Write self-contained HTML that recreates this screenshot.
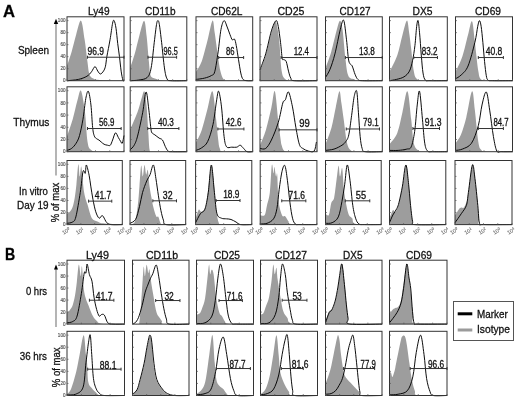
<!DOCTYPE html>
<html><head><meta charset="utf-8"><style>
html,body{margin:0;padding:0;background:#fff;}
svg{display:block;will-change:transform;}
text{font-family:"Liberation Sans",sans-serif;stroke:#111;stroke-width:0.3px;}
</style></head><body>
<svg width="520" height="402" viewBox="0 0 520 402">
<rect width="520" height="402" fill="#fff"/>
<path d="M67.00,80.70 L67.00,66.00 C67.76,63.66 70.04,57.16 71.56,51.95 C73.08,46.73 74.55,39.91 76.12,34.69 C77.69,29.47 79.54,19.78 80.97,20.63 C82.39,21.49 83.58,32.88 84.67,39.80 C85.76,46.73 86.76,56.52 87.52,62.17 C88.28,67.81 88.38,71.01 89.23,73.67 C90.09,76.33 90.66,77.08 92.65,78.14 C94.65,79.21 95.97,79.64 101.20,80.06 C106.42,80.49 120.20,80.59 124.00,80.70 L124.00,80.70 Z" fill="#9d9d9d"/>
<path d="M67.00,80.70 C68.90,80.49 75.08,80.17 78.40,79.42 C81.73,78.68 84.77,77.50 86.95,76.23 C89.14,74.95 90.18,73.35 91.51,71.75 C92.84,70.16 93.89,66.75 94.93,66.64 C95.98,66.54 96.87,69.89 97.78,71.12 C98.69,72.34 99.45,73.99 100.40,73.99 C101.35,73.99 102.63,72.41 103.48,71.12 C104.33,69.82 104.91,68.64 105.47,66.19 C106.04,63.75 106.14,60.82 106.90,56.42 C107.66,52.02 109.08,45.34 110.03,39.80 C110.98,34.27 111.92,26.38 112.60,23.19 C113.28,19.99 113.57,19.78 114.14,20.63 C114.71,21.49 115.42,24.47 116.02,28.30 C116.62,32.14 117.16,38.95 117.73,43.64 C118.30,48.32 118.87,51.84 119.44,56.42 C120.01,61.00 120.58,67.17 121.15,71.12 C121.72,75.06 122.39,78.46 122.86,80.06 C123.33,81.66 123.81,80.59 124.00,80.70" fill="none" stroke="#000" stroke-width="0.95" stroke-linejoin="round"/>
<path d="M87.52,57.22 H124.00 M87.52,55.72 V58.72 M124.00,55.72 V58.72" stroke="#333" stroke-width="1" fill="none"/>
<text x="87.52" y="54.72" font-size="10.00" textLength="16.53" lengthAdjust="spacingAndGlyphs" fill="#111">96.9</text>
<rect x="67.00" y="16.80" width="57.00" height="63.90" fill="none" stroke="#333" stroke-width="1"/>
<path d="M67.00,80.70 h1.5 M67.00,68.69 h1.5 M67.00,56.67 h1.5 M67.00,44.66 h1.5 M67.00,32.65 h1.5 M67.00,20.63 h1.5 M67.00,80.70 v-1.5 M81.25,80.70 v-1.5 M95.50,80.70 v-1.5 M109.75,80.70 v-1.5 M124.00,80.70 v-1.5" stroke="#555" stroke-width="0.7"/>
<path d="M130.20,80.70 L130.20,67.92 C130.95,65.58 133.22,59.19 134.73,53.86 C136.24,48.54 137.70,41.51 139.26,35.97 C140.81,30.43 142.84,20.63 144.07,20.63 C145.29,20.63 145.81,29.15 146.61,35.97 C147.42,42.79 148.22,54.93 148.88,61.53 C149.54,68.13 149.44,72.71 150.58,75.59 C151.71,78.46 153.41,77.93 155.67,78.78 C157.93,79.64 158.97,80.38 164.16,80.70 C169.35,81.02 183.03,80.70 186.80,80.70 L186.80,80.70 Z" fill="#9d9d9d"/>
<path d="M130.20,80.70 C131.61,80.59 135.86,80.59 138.69,80.06 C141.52,79.53 145.10,79.53 147.18,77.50 C149.26,75.48 149.96,73.78 151.14,67.92 C152.32,62.06 153.36,49.60 154.25,42.36 C155.15,35.12 155.91,28.09 156.52,24.47 C157.13,20.85 157.46,20.63 157.93,20.63 C158.41,20.63 158.74,20.85 159.35,24.47 C159.96,28.09 160.76,35.12 161.61,42.36 C162.46,49.60 163.55,61.85 164.44,67.92 C165.34,73.99 165.91,76.65 166.99,78.78 C168.07,80.91 167.65,80.38 170.95,80.70 C174.25,81.02 184.16,80.70 186.80,80.70" fill="none" stroke="#000" stroke-width="0.95" stroke-linejoin="round"/>
<path d="M147.97,57.22 H176.61 M147.97,55.72 V58.72 M176.61,55.72 V58.72" stroke="#333" stroke-width="1" fill="none"/>
<text x="163.59" y="54.72" font-size="10.00" textLength="14.15" lengthAdjust="spacingAndGlyphs" fill="#111">96.5</text>
<rect x="130.20" y="16.80" width="56.60" height="63.90" fill="none" stroke="#333" stroke-width="1"/>
<path d="M130.20,80.70 h1.5 M130.20,68.69 h1.5 M130.20,56.67 h1.5 M130.20,44.66 h1.5 M130.20,32.65 h1.5 M130.20,20.63 h1.5 M130.20,80.70 v-1.5 M144.35,80.70 v-1.5 M158.50,80.70 v-1.5 M172.65,80.70 v-1.5 M186.80,80.70 v-1.5" stroke="#555" stroke-width="0.7"/>
<path d="M196.00,80.70 L196.00,71.75 C196.94,70.05 199.78,66.64 201.67,61.53 C203.56,56.42 205.54,47.90 207.34,41.08 C209.14,34.27 211.21,22.02 212.44,20.63 C213.67,19.25 213.81,27.02 214.71,32.77 C215.61,38.53 216.88,48.75 217.83,55.14 C218.77,61.53 219.39,67.07 220.38,71.12 C221.37,75.16 222.18,77.82 223.78,79.42 C225.39,81.02 225.20,80.49 230.02,80.70 C234.84,80.91 248.92,80.70 252.70,80.70 L252.70,80.70 Z" fill="#9d9d9d"/>
<path d="M196.00,79.42 C197.42,79.21 201.95,78.78 204.50,78.14 C207.06,77.51 209.61,76.65 211.31,75.59 C213.01,74.52 213.58,75.69 214.71,71.75 C215.85,67.81 217.07,58.97 218.11,51.95 C219.15,44.92 219.96,34.80 220.95,29.58 C221.94,24.36 223.03,21.06 224.07,20.63 C225.11,20.21 226.19,24.68 227.19,27.02 C228.18,29.37 229.17,32.56 230.02,34.69 C230.87,36.82 231.53,39.06 232.29,39.80 C233.04,40.55 233.89,38.21 234.56,39.16 C235.22,40.12 235.60,42.15 236.26,45.55 C236.92,48.96 237.77,55.03 238.52,59.61 C239.28,64.19 240.04,69.73 240.79,73.03 C241.55,76.33 242.02,78.14 243.06,79.42 C244.10,80.70 245.42,80.49 247.03,80.70 C248.64,80.91 251.75,80.70 252.70,80.70" fill="none" stroke="#000" stroke-width="0.95" stroke-linejoin="round"/>
<path d="M218.68,57.54 H243.63 M218.68,56.04 V59.04 M243.63,56.04 V59.04" stroke="#333" stroke-width="1" fill="none"/>
<text x="226.05" y="55.04" font-size="10.00" textLength="8.50" lengthAdjust="spacingAndGlyphs" fill="#111">86</text>
<rect x="196.00" y="16.80" width="56.70" height="63.90" fill="none" stroke="#333" stroke-width="1"/>
<path d="M196.00,80.70 h1.5 M196.00,68.69 h1.5 M196.00,56.67 h1.5 M196.00,44.66 h1.5 M196.00,32.65 h1.5 M196.00,20.63 h1.5 M196.00,80.70 v-1.5 M210.18,80.70 v-1.5 M224.35,80.70 v-1.5 M238.52,80.70 v-1.5 M252.70,80.70 v-1.5" stroke="#555" stroke-width="0.7"/>
<path d="M260.00,80.70 L260.00,71.12 C260.95,68.45 263.80,61.53 265.70,55.14 C267.60,48.75 269.83,38.37 271.40,32.77 C272.97,27.18 274.16,22.66 275.11,21.59 C276.06,20.53 276.39,22.92 277.10,26.38 C277.81,29.85 278.62,34.91 279.38,42.36 C280.14,49.81 280.62,64.94 281.66,71.12 C282.71,77.29 283.56,77.82 285.65,79.42 C287.74,81.02 288.97,80.49 294.20,80.70 C299.43,80.91 313.20,80.70 317.00,80.70 L317.00,80.70 Z" fill="#9d9d9d"/>
<path d="M260.00,69.84 C260.95,67.17 263.80,60.36 265.70,53.86 C267.60,47.37 269.69,36.40 271.40,30.86 C273.11,25.32 274.82,21.38 275.96,20.63 C277.10,19.89 277.48,22.76 278.24,26.38 C279.00,30.01 279.85,37.03 280.52,42.36 C281.19,47.69 281.66,55.46 282.23,58.34 C282.80,61.21 283.27,59.08 283.94,59.61 C284.61,60.15 285.46,59.61 286.22,61.53 C286.98,63.45 287.74,68.35 288.50,71.12 C289.26,73.88 289.83,76.55 290.78,78.14 C291.73,79.74 289.83,80.27 294.20,80.70 C298.57,81.13 313.20,80.70 317.00,80.70" fill="none" stroke="#000" stroke-width="0.95" stroke-linejoin="round"/>
<path d="M281.09,57.54 H317.00 M281.09,56.04 V59.04 M317.00,56.04 V59.04" stroke="#333" stroke-width="1" fill="none"/>
<text x="293.63" y="55.04" font-size="10.00" textLength="15.39" lengthAdjust="spacingAndGlyphs" fill="#111">12.4</text>
<rect x="260.00" y="16.80" width="57.00" height="63.90" fill="none" stroke="#333" stroke-width="1"/>
<path d="M260.00,80.70 h1.5 M260.00,68.69 h1.5 M260.00,56.67 h1.5 M260.00,44.66 h1.5 M260.00,32.65 h1.5 M260.00,20.63 h1.5 M260.00,80.70 v-1.5 M274.25,80.70 v-1.5 M288.50,80.70 v-1.5 M302.75,80.70 v-1.5 M317.00,80.70 v-1.5" stroke="#555" stroke-width="0.7"/>
<path d="M325.50,80.70 L325.50,67.92 C326.45,65.26 329.29,58.34 331.18,51.95 C333.07,45.55 335.39,34.80 336.86,29.58 C338.33,24.36 339.04,20.63 339.98,20.63 C340.93,20.63 341.64,23.30 342.54,29.58 C343.44,35.86 344.43,50.67 345.38,58.34 C346.33,66.00 346.80,72.07 348.22,75.59 C349.64,79.10 352.01,78.57 353.90,79.42 C355.79,80.27 354.85,80.49 359.58,80.70 C364.31,80.91 378.51,80.70 382.30,80.70 L382.30,80.70 Z" fill="#9d9d9d"/>
<path d="M325.50,77.50 C326.26,76.12 328.47,73.14 330.04,69.20 C331.62,65.26 333.22,60.47 334.93,53.86 C336.63,47.26 338.81,35.17 340.27,29.58 C341.73,23.99 342.63,18.61 343.68,20.31 C344.72,22.02 345.66,33.04 346.52,39.80 C347.37,46.57 347.84,56.52 348.79,60.89 C349.73,65.26 351.15,63.77 352.20,66.00 C353.24,68.24 354.09,72.07 355.04,74.31 C355.98,76.55 356.65,78.36 357.88,79.42 C359.11,80.49 358.35,80.49 362.42,80.70 C366.49,80.91 378.99,80.70 382.30,80.70" fill="none" stroke="#000" stroke-width="0.95" stroke-linejoin="round"/>
<path d="M345.38,57.54 H382.30 M345.38,56.04 V59.04 M382.30,56.04 V59.04" stroke="#333" stroke-width="1" fill="none"/>
<text x="359.01" y="55.04" font-size="10.00" textLength="15.90" lengthAdjust="spacingAndGlyphs" fill="#111">13.8</text>
<rect x="325.50" y="16.80" width="56.80" height="63.90" fill="none" stroke="#333" stroke-width="1"/>
<path d="M325.50,80.70 h1.5 M325.50,68.69 h1.5 M325.50,56.67 h1.5 M325.50,44.66 h1.5 M325.50,32.65 h1.5 M325.50,20.63 h1.5 M325.50,80.70 v-1.5 M339.70,80.70 v-1.5 M353.90,80.70 v-1.5 M368.10,80.70 v-1.5 M382.30,80.70 v-1.5" stroke="#555" stroke-width="0.7"/>
<path d="M389.50,80.70 L389.50,71.75 C390.80,68.98 395.18,61.10 397.30,55.14 C399.42,49.18 400.63,41.72 402.22,35.97 C403.81,30.22 405.68,21.17 406.84,20.63 C408.00,20.10 408.43,28.09 409.15,32.77 C409.87,37.46 410.40,42.36 411.18,48.75 C411.95,55.14 412.86,66.11 413.78,71.12 C414.69,76.12 414.93,77.19 416.67,78.78 C418.40,80.38 419.07,80.38 424.18,80.70 C429.29,81.02 443.45,80.70 447.30,80.70 L447.30,80.70 Z" fill="#9d9d9d"/>
<path d="M389.50,80.70 C390.66,80.49 394.03,80.06 396.44,79.42 C398.84,78.78 401.78,78.25 403.95,76.87 C406.12,75.48 408.00,73.88 409.44,71.12 C410.89,68.35 411.70,64.51 412.62,60.25 C413.54,55.99 414.26,51.20 414.93,45.55 C415.61,39.91 416.14,30.54 416.67,26.38 C417.20,22.23 417.63,19.57 418.11,20.63 C418.59,21.70 419.03,27.02 419.56,32.77 C420.09,38.53 420.71,48.43 421.29,55.14 C421.87,61.85 422.35,68.88 423.02,73.03 C423.70,77.19 424.18,78.78 425.34,80.06 C426.49,81.34 426.30,80.59 429.96,80.70 C433.62,80.81 444.41,80.70 447.30,80.70" fill="none" stroke="#000" stroke-width="0.95" stroke-linejoin="round"/>
<path d="M413.78,57.54 H437.47 M413.78,56.04 V59.04 M437.47,56.04 V59.04" stroke="#333" stroke-width="1" fill="none"/>
<text x="421.87" y="55.04" font-size="10.00" textLength="15.61" lengthAdjust="spacingAndGlyphs" fill="#111">83.2</text>
<rect x="389.50" y="16.80" width="57.80" height="63.90" fill="none" stroke="#333" stroke-width="1"/>
<path d="M389.50,80.70 h1.5 M389.50,68.69 h1.5 M389.50,56.67 h1.5 M389.50,44.66 h1.5 M389.50,32.65 h1.5 M389.50,20.63 h1.5 M389.50,80.70 v-1.5 M403.95,80.70 v-1.5 M418.40,80.70 v-1.5 M432.85,80.70 v-1.5 M447.30,80.70 v-1.5" stroke="#555" stroke-width="0.7"/>
<path d="M455.50,80.70 L455.50,71.75 C456.64,69.20 460.25,62.59 462.34,56.42 C464.43,50.24 466.43,40.55 468.04,34.69 C469.66,28.83 470.89,19.99 472.03,21.27 C473.17,22.55 473.83,34.05 474.88,42.36 C475.93,50.67 477.25,64.94 478.30,71.12 C479.35,77.29 479.25,77.82 481.15,79.42 C483.05,81.02 484.47,80.49 489.70,80.70 C494.93,80.91 508.70,80.70 512.50,80.70 L512.50,80.70 Z" fill="#9d9d9d"/>
<path d="M455.50,78.78 C456.45,78.14 459.11,77.08 461.20,74.95 C463.29,72.82 465.76,71.43 468.04,66.00 C470.32,60.57 473.26,48.96 474.88,42.36 C476.50,35.76 476.97,30.01 477.73,26.38 C478.49,22.76 478.87,20.63 479.44,20.63 C480.01,20.63 480.58,22.76 481.15,26.38 C481.72,30.01 482.29,36.50 482.86,42.36 C483.43,48.22 484.00,55.99 484.57,61.53 C485.14,67.07 485.71,72.50 486.28,75.59 C486.85,78.68 486.94,79.21 487.99,80.06 C489.04,80.91 488.47,80.59 492.55,80.70 C496.63,80.81 509.18,80.70 512.50,80.70" fill="none" stroke="#000" stroke-width="0.95" stroke-linejoin="round"/>
<path d="M478.30,57.54 H503.38 M478.30,56.04 V59.04 M503.38,56.04 V59.04" stroke="#333" stroke-width="1" fill="none"/>
<text x="485.71" y="55.04" font-size="10.00" textLength="16.53" lengthAdjust="spacingAndGlyphs" fill="#111">40.8</text>
<rect x="455.50" y="16.80" width="57.00" height="63.90" fill="none" stroke="#333" stroke-width="1"/>
<path d="M455.50,80.70 h1.5 M455.50,68.69 h1.5 M455.50,56.67 h1.5 M455.50,44.66 h1.5 M455.50,32.65 h1.5 M455.50,20.63 h1.5 M455.50,80.70 v-1.5 M469.75,80.70 v-1.5 M484.00,80.70 v-1.5 M498.25,80.70 v-1.5 M512.50,80.70 v-1.5" stroke="#555" stroke-width="0.7"/>
<path d="M67.00,151.70 L67.00,136.45 C67.95,133.58 70.99,125.15 72.70,119.25 C74.41,113.35 75.88,105.84 77.26,101.08 C78.64,96.32 79.68,88.86 80.97,90.69 C82.25,92.53 83.86,103.62 84.95,112.11 C86.05,120.60 86.52,135.37 87.52,141.64 C88.52,147.91 89.13,148.08 90.94,149.75 C92.75,151.43 92.84,151.38 98.35,151.70 C103.86,152.02 119.72,151.70 124.00,151.70 L124.00,151.70 Z" fill="#9d9d9d"/>
<path d="M67.00,150.40 C67.76,150.08 70.04,149.64 71.56,148.45 C73.08,147.27 74.79,145.43 76.12,143.26 C77.45,141.10 78.40,139.48 79.54,135.47 C80.68,131.47 81.92,125.42 82.96,119.25 C84.01,113.08 84.91,103.13 85.81,98.48 C86.71,93.83 87.52,90.26 88.38,91.34 C89.23,92.42 90.23,98.91 90.94,104.97 C91.65,111.03 92.08,122.49 92.65,127.69 C93.22,132.88 93.69,134.29 94.36,136.12 C95.03,137.96 95.88,138.07 96.64,138.72 C97.40,139.37 98.16,139.48 98.92,140.02 C99.68,140.56 100.34,141.26 101.20,141.97 C102.05,142.67 103.01,143.70 104.05,144.24 C105.10,144.78 106.42,145.05 107.47,145.21 C108.52,145.37 109.46,146.08 110.32,145.21 C111.17,144.34 111.74,142.07 112.60,140.02 C113.45,137.96 114.50,133.31 115.45,132.88 C116.40,132.45 117.45,136.02 118.30,137.42 C119.16,138.83 119.92,140.34 120.58,141.32 C121.24,142.29 121.72,144.24 122.29,143.26 C122.86,142.29 123.72,136.77 124.00,135.47" fill="none" stroke="#000" stroke-width="0.95" stroke-linejoin="round"/>
<path d="M87.52,128.53 H121.15 M87.52,127.03 V130.03 M121.15,127.03 V130.03" stroke="#333" stroke-width="1" fill="none"/>
<text x="98.92" y="125.73" font-size="10.00" textLength="15.39" lengthAdjust="spacingAndGlyphs" fill="#111">56.9</text>
<rect x="67.00" y="86.80" width="57.00" height="64.90" fill="none" stroke="#333" stroke-width="1"/>
<path d="M67.00,151.70 h1.5 M67.00,139.50 h1.5 M67.00,127.30 h1.5 M67.00,115.10 h1.5 M67.00,102.90 h1.5 M67.00,90.69 h1.5 M67.00,151.70 v-1.5 M81.25,151.70 v-1.5 M95.50,151.70 v-1.5 M109.75,151.70 v-1.5 M124.00,151.70 v-1.5" stroke="#555" stroke-width="0.7"/>
<path d="M130.20,151.70 L130.20,129.63 C131.43,126.71 135.67,117.30 137.56,112.11 C139.44,106.92 140.39,101.94 141.52,98.48 C142.65,95.02 143.50,90.04 144.35,91.34 C145.20,92.64 145.95,99.46 146.61,106.27 C147.27,113.08 147.79,124.87 148.31,132.23 C148.83,139.59 148.97,147.16 149.73,150.40 C150.48,153.65 146.66,151.48 152.84,151.70 C159.02,151.92 181.14,151.70 186.80,151.70 L186.80,151.70 Z" fill="#9d9d9d"/>
<path d="M130.20,149.75 C130.86,149.00 132.94,147.48 134.16,145.21 C135.39,142.94 136.14,141.53 137.56,136.12 C138.97,130.72 141.24,120.12 142.65,112.76 C144.07,105.40 145.01,92.42 146.05,91.99 C147.09,91.56 148.03,103.78 148.88,110.16 C149.73,116.55 150.48,126.39 151.14,130.28 C151.80,134.18 152.23,132.77 152.84,133.53 C153.45,134.29 153.78,134.07 154.82,134.83 C155.86,135.58 157.79,137.21 159.07,138.07 C160.34,138.94 161.42,138.61 162.46,140.02 C163.50,141.42 164.35,144.67 165.29,146.51 C166.24,148.35 166.90,150.19 168.12,151.05 C169.35,151.92 169.54,151.59 172.65,151.70 C175.76,151.81 184.44,151.70 186.80,151.70" fill="none" stroke="#000" stroke-width="0.95" stroke-linejoin="round"/>
<path d="M147.75,128.53 H178.88 M147.75,127.03 V130.03 M178.88,127.03 V130.03" stroke="#333" stroke-width="1" fill="none"/>
<text x="157.93" y="125.73" font-size="10.00" textLength="15.85" lengthAdjust="spacingAndGlyphs" fill="#111">40.3</text>
<rect x="130.20" y="86.80" width="56.60" height="64.90" fill="none" stroke="#333" stroke-width="1"/>
<path d="M130.20,151.70 h1.5 M130.20,139.50 h1.5 M130.20,127.30 h1.5 M130.20,115.10 h1.5 M130.20,102.90 h1.5 M130.20,90.69 h1.5 M130.20,151.70 v-1.5 M144.35,151.70 v-1.5 M158.50,151.70 v-1.5 M172.65,151.70 v-1.5 M186.80,151.70 v-1.5" stroke="#555" stroke-width="0.7"/>
<path d="M196.00,151.70 L196.00,142.61 C196.94,140.56 199.78,135.80 201.67,130.28 C203.56,124.77 205.54,116.00 207.34,109.51 C209.14,103.02 210.98,89.72 212.44,91.34 C213.91,92.97 215.18,111.35 216.13,119.25 C217.07,127.15 217.50,133.85 218.11,138.72 C218.73,143.59 218.77,146.29 219.81,148.45 C220.85,150.62 218.87,151.16 224.35,151.70 C229.83,152.24 247.97,151.70 252.70,151.70 L252.70,151.70 Z" fill="#9d9d9d"/>
<path d="M196.00,150.40 C196.94,149.97 199.73,149.27 201.67,147.81 C203.61,146.35 205.73,145.53 207.62,141.64 C209.51,137.75 211.50,131.42 213.01,124.44 C214.52,117.47 215.75,105.30 216.70,99.78 C217.64,94.26 217.88,90.15 218.68,91.34 C219.48,92.53 220.62,99.40 221.51,106.92 C222.41,114.44 223.22,129.80 224.07,136.45 C224.92,143.10 225.34,145.05 226.62,146.83 C227.89,148.62 230.02,147.10 231.72,147.16 C233.42,147.21 235.41,147.48 236.82,147.16 C238.24,146.83 239.09,144.99 240.23,145.21 C241.36,145.43 242.49,147.37 243.63,148.45 C244.76,149.54 245.52,151.16 247.03,151.70 C248.54,152.24 251.75,151.70 252.70,151.70" fill="none" stroke="#000" stroke-width="0.95" stroke-linejoin="round"/>
<path d="M217.83,128.98 H243.91 M217.83,127.48 V130.48 M243.91,127.48 V130.48" stroke="#333" stroke-width="1" fill="none"/>
<text x="225.77" y="126.18" font-size="10.00" textLength="15.59" lengthAdjust="spacingAndGlyphs" fill="#111">42.6</text>
<rect x="196.00" y="86.80" width="56.70" height="64.90" fill="none" stroke="#333" stroke-width="1"/>
<path d="M196.00,151.70 h1.5 M196.00,139.50 h1.5 M196.00,127.30 h1.5 M196.00,115.10 h1.5 M196.00,102.90 h1.5 M196.00,90.69 h1.5 M196.00,151.70 v-1.5 M210.18,151.70 v-1.5 M224.35,151.70 v-1.5 M238.52,151.70 v-1.5 M252.70,151.70 v-1.5" stroke="#555" stroke-width="0.7"/>
<path d="M260.00,151.70 L260.00,145.21 C261.00,142.61 264.09,135.91 265.99,129.63 C267.88,123.36 269.93,113.95 271.40,107.57 C272.87,101.19 273.68,89.18 274.82,91.34 C275.96,93.51 277.29,112.65 278.24,120.55 C279.19,128.44 279.95,134.61 280.52,138.72 C281.09,142.83 281.09,143.26 281.66,145.21 C282.23,147.16 282.80,149.32 283.94,150.40 C285.08,151.48 282.99,151.48 288.50,151.70 C294.01,151.92 312.25,151.70 317.00,151.70 L317.00,151.70 Z" fill="#9d9d9d"/>
<path d="M260.00,148.45 C260.95,148.45 263.80,149.86 265.70,148.45 C267.60,147.05 269.31,144.34 271.40,140.02 C273.49,135.69 276.34,128.66 278.24,122.49 C280.14,116.33 281.61,106.81 282.80,103.02 C283.99,99.24 284.42,101.62 285.37,99.78 C286.31,97.94 287.31,90.80 288.50,91.99 C289.69,93.18 291.25,100.97 292.49,106.92 C293.73,112.87 294.77,121.47 295.91,127.69 C297.05,133.91 298.19,140.78 299.33,144.24 C300.47,147.70 301.23,147.32 302.75,148.45 C304.27,149.59 306.55,150.62 308.45,151.05 C310.35,151.48 312.82,152.57 314.15,151.05 C315.48,149.54 316.05,143.48 316.43,141.97" fill="none" stroke="#000" stroke-width="0.95" stroke-linejoin="round"/>
<path d="M279.10,129.83 H317.00 M279.10,128.33 V131.33 M317.00,128.33 V131.33" stroke="#333" stroke-width="1" fill="none"/>
<text x="299.33" y="127.03" font-size="10.00" textLength="10.55" lengthAdjust="spacingAndGlyphs" fill="#111">99</text>
<rect x="260.00" y="86.80" width="57.00" height="64.90" fill="none" stroke="#333" stroke-width="1"/>
<path d="M260.00,151.70 h1.5 M260.00,139.50 h1.5 M260.00,127.30 h1.5 M260.00,115.10 h1.5 M260.00,102.90 h1.5 M260.00,90.69 h1.5 M260.00,151.70 v-1.5 M274.25,151.70 v-1.5 M288.50,151.70 v-1.5 M302.75,151.70 v-1.5 M317.00,151.70 v-1.5" stroke="#555" stroke-width="0.7"/>
<path d="M325.50,151.70 L325.50,144.24 C326.49,141.48 329.76,133.80 331.46,127.69 C333.17,121.58 334.40,113.63 335.72,107.57 C337.05,101.51 338.47,92.10 339.42,91.34 C340.36,90.59 340.69,98.37 341.40,103.02 C342.11,107.68 342.73,112.54 343.68,119.25 C344.62,125.96 345.85,138.07 347.08,143.26 C348.31,148.45 349.45,149.00 351.06,150.40 C352.67,151.81 351.53,151.48 356.74,151.70 C361.95,151.92 378.04,151.70 382.30,151.70 L382.30,151.70 Z" fill="#9d9d9d"/>
<path d="M325.50,150.40 C326.92,150.19 331.27,149.97 334.02,149.10 C336.77,148.24 339.98,146.51 341.97,145.21 C343.96,143.91 344.81,143.05 345.95,141.32 C347.08,139.59 347.84,139.15 348.79,134.83 C349.73,130.50 350.73,121.74 351.63,115.36 C352.53,108.97 353.33,100.54 354.18,96.53 C355.04,92.53 356.03,88.64 356.74,91.34 C357.45,94.05 357.88,105.24 358.44,112.76 C359.01,120.28 359.53,130.50 360.15,136.45 C360.76,142.40 361.28,145.91 362.14,148.45 C362.99,151.00 361.90,151.16 365.26,151.70 C368.62,152.24 379.46,151.70 382.30,151.70" fill="none" stroke="#000" stroke-width="0.95" stroke-linejoin="round"/>
<path d="M346.23,128.98 H379.46 M346.23,127.48 V130.48 M379.46,127.48 V130.48" stroke="#333" stroke-width="1" fill="none"/>
<text x="362.99" y="126.18" font-size="10.00" textLength="15.62" lengthAdjust="spacingAndGlyphs" fill="#111">79.1</text>
<rect x="325.50" y="86.80" width="56.80" height="64.90" fill="none" stroke="#333" stroke-width="1"/>
<path d="M325.50,151.70 h1.5 M325.50,139.50 h1.5 M325.50,127.30 h1.5 M325.50,115.10 h1.5 M325.50,102.90 h1.5 M325.50,90.69 h1.5 M325.50,151.70 v-1.5 M339.70,151.70 v-1.5 M353.90,151.70 v-1.5 M368.10,151.70 v-1.5 M382.30,151.70 v-1.5" stroke="#555" stroke-width="0.7"/>
<path d="M389.50,151.70 L389.50,144.24 C390.80,142.34 395.14,138.23 397.30,132.88 C399.47,127.52 400.82,119.03 402.50,112.11 C404.19,105.19 405.97,90.15 407.42,91.34 C408.86,92.53 410.12,110.60 411.18,119.25 C412.23,127.90 412.57,138.07 413.78,143.26 C414.98,148.45 416.67,149.00 418.40,150.40 C420.13,151.81 419.36,151.48 424.18,151.70 C429.00,151.92 443.45,151.70 447.30,151.70 L447.30,151.70 Z" fill="#9d9d9d"/>
<path d="M389.50,150.40 C390.94,150.40 395.28,150.62 398.17,150.40 C401.06,150.19 404.67,149.70 406.84,149.10 C409.01,148.51 409.87,149.75 411.18,146.83 C412.48,143.91 413.63,138.56 414.64,131.58 C415.65,124.60 416.43,111.68 417.24,104.97 C418.06,98.27 418.69,88.96 419.56,91.34 C420.42,93.72 421.58,110.60 422.45,119.25 C423.31,127.90 423.89,137.96 424.76,143.26 C425.62,148.56 426.30,149.64 427.65,151.05 C429.00,152.46 429.57,151.59 432.85,151.70 C436.13,151.81 444.89,151.70 447.30,151.70" fill="none" stroke="#000" stroke-width="0.95" stroke-linejoin="round"/>
<path d="M412.91,128.53 H439.50 M412.91,127.03 V130.03 M439.50,127.03 V130.03" stroke="#333" stroke-width="1" fill="none"/>
<text x="424.76" y="125.73" font-size="10.00" textLength="16.76" lengthAdjust="spacingAndGlyphs" fill="#111">91.3</text>
<rect x="389.50" y="86.80" width="57.80" height="64.90" fill="none" stroke="#333" stroke-width="1"/>
<path d="M389.50,151.70 h1.5 M389.50,139.50 h1.5 M389.50,127.30 h1.5 M389.50,115.10 h1.5 M389.50,102.90 h1.5 M389.50,90.69 h1.5 M389.50,151.70 v-1.5 M403.95,151.70 v-1.5 M418.40,151.70 v-1.5 M432.85,151.70 v-1.5 M447.30,151.70 v-1.5" stroke="#555" stroke-width="0.7"/>
<path d="M455.50,151.70 L455.50,143.26 C456.40,141.86 459.11,139.15 460.92,134.83 C462.72,130.50 464.48,124.55 466.33,117.30 C468.18,110.06 470.60,92.53 472.03,91.34 C473.45,90.15 473.83,101.78 474.88,110.16 C475.93,118.55 477.25,135.04 478.30,141.64 C479.35,148.24 479.72,148.08 481.15,149.75 C482.57,151.43 481.62,151.38 486.85,151.70 C492.08,152.02 508.23,151.70 512.50,151.70 L512.50,151.70 Z" fill="#9d9d9d"/>
<path d="M455.50,150.40 C456.64,150.19 459.68,150.29 462.34,149.10 C465.00,147.91 468.80,147.16 471.46,143.26 C474.12,139.37 476.54,132.12 478.30,125.74 C480.06,119.36 480.68,110.60 482.00,104.97 C483.33,99.35 485.00,91.13 486.28,91.99 C487.56,92.86 488.51,102.75 489.70,110.16 C490.89,117.57 492.22,129.63 493.40,136.45 C494.59,143.26 495.54,148.51 496.82,151.05 C498.11,153.59 498.49,151.59 501.10,151.70 C503.71,151.81 510.60,151.70 512.50,151.70" fill="none" stroke="#000" stroke-width="0.95" stroke-linejoin="round"/>
<path d="M478.30,128.53 H503.38 M478.30,127.03 V130.03 M503.38,127.03 V130.03" stroke="#333" stroke-width="1" fill="none"/>
<text x="493.40" y="125.73" font-size="10.00" textLength="15.11" lengthAdjust="spacingAndGlyphs" fill="#111">84.7</text>
<rect x="455.50" y="86.80" width="57.00" height="64.90" fill="none" stroke="#333" stroke-width="1"/>
<path d="M455.50,151.70 h1.5 M455.50,139.50 h1.5 M455.50,127.30 h1.5 M455.50,115.10 h1.5 M455.50,102.90 h1.5 M455.50,90.69 h1.5 M455.50,151.70 v-1.5 M469.75,151.70 v-1.5 M484.00,151.70 v-1.5 M498.25,151.70 v-1.5 M512.50,151.70 v-1.5" stroke="#555" stroke-width="0.7"/>
<path d="M67.00,224.60 L67.00,213.70 C67.46,213.38 68.84,212.85 69.77,211.78 C70.69,210.71 71.70,209.64 72.53,207.29 C73.36,204.94 74.10,201.42 74.74,197.68 C75.39,193.94 75.80,190.41 76.40,184.86 C77.00,179.30 77.78,165.73 78.34,164.35 C78.89,162.96 79.21,176.10 79.72,176.53 C80.23,176.95 80.64,164.24 81.38,166.91 C82.12,169.58 83.08,186.14 84.14,192.55 C85.20,198.96 86.45,201.10 87.74,205.37 C89.03,209.64 90.27,215.52 91.88,218.19 C93.50,220.86 95.57,220.54 97.41,221.39 C99.26,222.25 98.80,222.78 102.94,223.32 C107.09,223.85 119.07,224.39 122.30,224.60 L122.30,224.60 Z" fill="#9d9d9d"/>
<path d="M67.00,223.32 C67.92,223.10 71.06,223.10 72.53,222.04 C74.00,220.97 74.56,221.82 75.85,216.91 C77.14,211.99 79.07,200.14 80.27,192.55 C81.47,184.96 82.21,174.60 83.04,171.40 C83.87,168.19 84.70,174.39 85.25,173.32 C85.80,172.25 85.71,164.67 86.35,164.99 C87.00,165.31 88.38,171.72 89.12,175.24 C89.86,178.77 90.13,182.08 90.78,186.14 C91.42,190.20 92.16,195.33 92.99,199.60 C93.82,203.87 94.74,208.68 95.76,211.78 C96.77,214.88 98.06,217.55 99.07,218.19 C100.09,218.83 101.10,215.84 101.84,215.63 C102.58,215.41 102.67,215.73 103.50,216.91 C104.33,218.08 105.53,221.39 106.82,222.68 C108.11,223.96 108.66,224.28 111.24,224.60 C113.82,224.92 120.46,224.60 122.30,224.60" fill="none" stroke="#000" stroke-width="0.95" stroke-linejoin="round"/>
<path d="M88.57,201.14 H111.79 M88.57,199.64 V202.64 M111.79,199.64 V202.64" stroke="#333" stroke-width="1" fill="none"/>
<text x="94.65" y="198.94" font-size="10.00" textLength="16.59" lengthAdjust="spacingAndGlyphs" fill="#111">41.7</text>
<rect x="67.00" y="160.50" width="55.30" height="64.10" fill="none" stroke="#333" stroke-width="1"/>
<path d="M67.00,224.60 h1.5 M67.00,212.55 h1.5 M67.00,200.50 h1.5 M67.00,188.45 h1.5 M67.00,176.40 h1.5 M67.00,164.35 h1.5 M67.00,224.60 v-1.5 M80.83,224.60 v-1.5 M94.65,224.60 v-1.5 M108.47,224.60 v-1.5 M122.30,224.60 v-1.5" stroke="#555" stroke-width="0.7"/>
<path d="M130.00,224.60 L130.00,224.60 C130.84,224.07 133.71,224.60 135.01,221.39 C136.31,218.19 137.06,211.25 137.80,205.37 C138.54,199.49 138.91,192.76 139.47,186.14 C140.03,179.52 140.58,167.23 141.14,165.63 C141.70,164.03 142.25,176.63 142.81,176.53 C143.37,176.42 143.93,165.31 144.48,164.99 C145.04,164.67 145.60,173.75 146.15,174.60 C146.71,175.46 147.27,168.19 147.82,170.12 C148.38,172.04 148.85,181.33 149.50,186.14 C150.14,190.95 151.07,195.43 151.72,198.96 C152.37,202.49 152.65,204.41 153.39,207.29 C154.14,210.18 155.34,214.66 156.18,216.27 C157.01,217.87 157.66,215.73 158.41,216.91 C159.15,218.08 159.80,222.04 160.63,223.32 C161.47,224.60 159.24,224.39 163.42,224.60 C167.60,224.81 181.99,224.60 185.70,224.60 L185.70,224.60 Z" fill="#9d9d9d"/>
<path d="M130.00,223.32 C130.93,222.68 133.99,222.25 135.57,219.47 C137.15,216.69 138.31,211.14 139.47,206.65 C140.63,202.16 141.33,196.82 142.53,192.55 C143.74,188.28 145.46,184.00 146.71,181.01 C147.96,178.02 148.94,177.27 150.05,174.60 C151.17,171.93 152.42,164.35 153.39,164.99 C154.37,165.63 155.06,173.32 155.90,178.45 C156.74,183.58 157.57,190.41 158.41,195.75 C159.24,201.10 160.08,206.44 160.91,210.50 C161.75,214.56 162.54,217.76 163.42,220.11 C164.30,222.46 162.49,223.85 166.20,224.60 C169.92,225.35 182.45,224.60 185.70,224.60" fill="none" stroke="#000" stroke-width="0.95" stroke-linejoin="round"/>
<path d="M152.84,200.82 H176.51 M152.84,199.32 V202.32 M176.51,199.32 V202.32" stroke="#333" stroke-width="1" fill="none"/>
<text x="162.86" y="198.62" font-size="10.00" textLength="9.75" lengthAdjust="spacingAndGlyphs" fill="#111">32</text>
<rect x="130.00" y="160.50" width="55.70" height="64.10" fill="none" stroke="#333" stroke-width="1"/>
<path d="M130.00,224.60 h1.5 M130.00,212.55 h1.5 M130.00,200.50 h1.5 M130.00,188.45 h1.5 M130.00,176.40 h1.5 M130.00,164.35 h1.5 M130.00,224.60 v-1.5 M143.93,224.60 v-1.5 M157.85,224.60 v-1.5 M171.77,224.60 v-1.5 M185.70,224.60 v-1.5" stroke="#555" stroke-width="0.7"/>
<path d="M195.60,224.60 L195.60,218.83 C196.12,217.34 197.75,211.03 198.69,209.86 C199.63,208.68 200.05,212.31 201.22,211.78 C202.39,211.25 204.55,210.39 205.72,206.65 C206.89,202.91 207.31,196.18 208.25,189.34 C209.18,182.51 210.45,167.12 211.34,165.63 C212.23,164.13 212.79,173.21 213.58,180.37 C214.38,187.53 215.22,201.42 216.11,208.57 C217.00,215.73 217.66,220.65 218.92,223.32 C220.19,225.99 218.22,224.39 223.70,224.60 C229.18,224.81 247.12,224.60 251.80,224.60 L251.80,224.60 Z" fill="#9d9d9d"/>
<path d="M195.60,222.68 C196.40,221.18 198.83,215.95 200.38,213.70 C201.92,211.46 203.56,212.74 204.87,209.22 C206.18,205.69 207.17,199.92 208.25,192.55 C209.32,185.18 210.31,164.99 211.34,164.99 C212.37,164.99 213.49,184.43 214.43,192.55 C215.36,200.67 215.79,209.43 216.96,213.70 C218.13,217.98 219.86,217.34 221.45,218.19 C223.04,219.04 224.92,218.62 226.51,218.83 C228.10,219.04 229.41,218.94 231.01,219.47 C232.60,220.01 234.47,221.18 236.06,222.04 C237.66,222.89 237.94,224.17 240.56,224.60 C243.18,225.03 249.93,224.60 251.80,224.60" fill="none" stroke="#000" stroke-width="0.95" stroke-linejoin="round"/>
<path d="M216.11,200.50 H240.00 M216.11,199.00 V202.00 M240.00,199.00 V202.00" stroke="#333" stroke-width="1" fill="none"/>
<text x="223.14" y="198.30" font-size="10.00" textLength="16.30" lengthAdjust="spacingAndGlyphs" fill="#111">18.9</text>
<rect x="195.60" y="160.50" width="56.20" height="64.10" fill="none" stroke="#333" stroke-width="1"/>
<path d="M195.60,224.60 h1.5 M195.60,212.55 h1.5 M195.60,200.50 h1.5 M195.60,188.45 h1.5 M195.60,176.40 h1.5 M195.60,164.35 h1.5 M195.60,224.60 v-1.5 M209.65,224.60 v-1.5 M223.70,224.60 v-1.5 M237.75,224.60 v-1.5 M251.80,224.60 v-1.5" stroke="#555" stroke-width="0.7"/>
<path d="M260.20,224.60 L260.20,215.31 C260.96,215.25 263.60,216.64 264.74,214.98 C265.87,213.33 266.15,209.11 267.00,205.37 C267.85,201.63 269.04,199.28 269.84,192.55 C270.64,185.82 271.21,168.19 271.82,164.99 C272.44,161.78 273.10,173.00 273.52,173.32 C273.95,173.64 273.95,166.38 274.38,166.91 C274.80,167.44 275.60,175.24 276.08,176.53 C276.55,177.81 276.78,170.44 277.21,174.60 C277.64,178.77 277.82,194.74 278.63,201.52 C279.43,208.31 280.94,212.85 282.03,215.31 C283.12,217.76 284.06,215.25 285.15,216.27 C286.23,217.28 287.51,220.11 288.55,221.39 C289.59,222.68 286.66,223.42 291.38,223.96 C296.11,224.49 312.65,224.49 316.90,224.60 L316.90,224.60 Z" fill="#9d9d9d"/>
<path d="M260.20,223.96 C261.33,223.85 264.78,224.17 267.00,223.32 C269.22,222.46 271.87,221.29 273.52,218.83 C275.18,216.37 275.98,213.49 276.93,208.57 C277.87,203.66 278.34,195.54 279.19,189.34 C280.05,183.15 281.08,175.35 282.03,171.40 C282.97,167.44 283.97,164.13 284.86,165.63 C285.76,167.12 286.57,174.17 287.42,180.37 C288.27,186.57 289.12,196.50 289.97,202.81 C290.82,209.11 291.62,214.66 292.52,218.19 C293.42,221.72 294.13,222.89 295.35,223.96 C296.58,225.03 296.30,224.49 299.89,224.60 C303.48,224.71 314.06,224.60 316.90,224.60" fill="none" stroke="#000" stroke-width="0.95" stroke-linejoin="round"/>
<path d="M281.75,200.82 H305.84 M281.75,199.32 V202.32 M305.84,199.32 V202.32" stroke="#333" stroke-width="1" fill="none"/>
<text x="288.55" y="198.62" font-size="10.00" textLength="16.44" lengthAdjust="spacingAndGlyphs" fill="#111">71.6</text>
<rect x="260.20" y="160.50" width="56.70" height="64.10" fill="none" stroke="#333" stroke-width="1"/>
<path d="M260.20,224.60 h1.5 M260.20,212.55 h1.5 M260.20,200.50 h1.5 M260.20,188.45 h1.5 M260.20,176.40 h1.5 M260.20,164.35 h1.5 M260.20,224.60 v-1.5 M274.38,224.60 v-1.5 M288.55,224.60 v-1.5 M302.72,224.60 v-1.5 M316.90,224.60 v-1.5" stroke="#555" stroke-width="0.7"/>
<path d="M325.50,224.60 L325.50,213.70 C326.06,213.92 327.87,216.80 328.84,214.98 C329.82,213.17 330.47,205.69 331.35,202.81 C332.23,199.92 333.25,201.63 334.13,197.68 C335.02,193.73 335.90,184.43 336.64,179.09 C337.38,173.75 338.03,166.06 338.59,165.63 C339.15,165.20 339.38,176.10 339.98,176.53 C340.59,176.95 341.56,166.06 342.21,168.19 C342.86,170.33 343.18,183.15 343.88,189.34 C344.58,195.54 345.55,201.10 346.39,205.37 C347.22,209.64 347.92,212.85 348.89,214.98 C349.87,217.12 351.03,216.69 352.24,218.19 C353.44,219.69 351.31,222.89 356.13,223.96 C360.96,225.03 377.02,224.49 381.20,224.60 L381.20,224.60 Z" fill="#9d9d9d"/>
<path d="M325.50,223.32 C326.61,223.21 330.05,223.75 332.18,222.68 C334.32,221.61 336.69,220.43 338.31,216.91 C339.94,213.38 340.86,206.97 341.93,201.52 C343.00,196.08 343.83,190.31 344.72,184.22 C345.60,178.13 346.34,165.63 347.22,164.99 C348.10,164.35 349.08,173.64 350.01,180.37 C350.94,187.10 351.86,199.07 352.79,205.37 C353.72,211.67 354.56,215.09 355.58,218.19 C356.60,221.29 357.43,222.89 358.92,223.96 C360.41,225.03 360.78,224.49 364.49,224.60 C368.20,224.71 378.41,224.60 381.20,224.60" fill="none" stroke="#000" stroke-width="0.95" stroke-linejoin="round"/>
<path d="M345.27,200.82 H369.78 M345.27,199.32 V202.32 M369.78,199.32 V202.32" stroke="#333" stroke-width="1" fill="none"/>
<text x="355.86" y="198.62" font-size="10.00" textLength="10.30" lengthAdjust="spacingAndGlyphs" fill="#111">55</text>
<rect x="325.50" y="160.50" width="55.70" height="64.10" fill="none" stroke="#333" stroke-width="1"/>
<path d="M325.50,224.60 h1.5 M325.50,212.55 h1.5 M325.50,200.50 h1.5 M325.50,188.45 h1.5 M325.50,176.40 h1.5 M325.50,164.35 h1.5 M325.50,224.60 v-1.5 M339.43,224.60 v-1.5 M353.35,224.60 v-1.5 M367.27,224.60 v-1.5 M381.20,224.60 v-1.5" stroke="#555" stroke-width="0.7"/>
<path d="M389.50,224.60 L389.50,218.19 C390.06,216.85 391.89,211.25 392.88,210.18 C393.86,209.11 394.38,212.96 395.41,211.78 C396.44,210.60 397.90,207.40 399.07,203.13 C400.24,198.85 401.23,192.50 402.45,186.14 C403.67,179.78 405.36,165.31 406.39,164.99 C407.42,164.67 407.99,177.86 408.64,184.22 C409.30,190.57 409.67,196.93 410.33,203.13 C410.99,209.32 411.83,217.82 412.58,221.39 C413.33,224.97 409.30,224.07 414.83,224.60 C420.37,225.13 440.64,224.60 445.80,224.60 L445.80,224.60 Z" fill="#9d9d9d"/>
<path d="M389.50,222.68 C390.06,221.39 391.66,217.34 392.88,214.98 C394.10,212.63 395.79,210.71 396.82,208.57 C397.85,206.44 398.13,205.90 399.07,202.16 C400.01,198.43 401.32,192.34 402.45,186.14 C403.57,179.94 404.79,165.31 405.83,164.99 C406.86,164.67 407.89,177.86 408.64,184.22 C409.39,190.57 409.67,196.93 410.33,203.13 C410.99,209.32 411.83,217.82 412.58,221.39 C413.33,224.97 409.30,224.07 414.83,224.60 C420.37,225.13 440.64,224.60 445.80,224.60" fill="none" stroke="#000" stroke-width="0.95" stroke-linejoin="round"/>
<rect x="389.50" y="160.50" width="56.30" height="64.10" fill="none" stroke="#333" stroke-width="1"/>
<path d="M389.50,224.60 h1.5 M389.50,212.55 h1.5 M389.50,200.50 h1.5 M389.50,188.45 h1.5 M389.50,176.40 h1.5 M389.50,164.35 h1.5 M389.50,224.60 v-1.5 M403.57,224.60 v-1.5 M417.65,224.60 v-1.5 M431.73,224.60 v-1.5 M445.80,224.60 v-1.5" stroke="#555" stroke-width="0.7"/>
<path d="M455.00,224.60 L455.00,215.31 C455.67,214.29 457.94,210.50 458.99,209.22 C460.04,207.93 460.41,207.93 461.27,207.61 C462.12,207.29 463.07,208.95 464.12,207.29 C465.17,205.64 466.54,202.38 467.54,197.68 C468.54,192.98 469.25,184.59 470.11,179.09 C470.96,173.59 471.81,164.45 472.67,164.67 C473.53,164.88 474.48,174.55 475.24,180.37 C476.00,186.19 476.61,193.30 477.23,199.60 C477.85,205.90 478.27,214.02 478.94,218.19 C479.61,222.36 475.71,223.53 481.22,224.60 C486.73,225.67 506.87,224.60 512.00,224.60 L512.00,224.60 Z" fill="#9d9d9d"/>
<path d="M455.00,222.68 C456.05,221.18 459.37,216.59 461.27,213.70 C463.17,210.82 465.21,208.90 466.40,205.37 C467.59,201.84 467.40,199.28 468.39,192.55 C469.39,185.82 471.29,167.34 472.38,164.99 C473.48,162.64 474.05,171.72 474.95,178.45 C475.85,185.18 477.04,197.89 477.80,205.37 C478.56,212.85 478.56,220.11 479.51,223.32 C480.46,226.52 478.08,224.39 483.50,224.60 C488.92,224.81 507.25,224.60 512.00,224.60" fill="none" stroke="#000" stroke-width="0.95" stroke-linejoin="round"/>
<rect x="455.00" y="160.50" width="57.00" height="64.10" fill="none" stroke="#333" stroke-width="1"/>
<path d="M455.00,224.60 h1.5 M455.00,212.55 h1.5 M455.00,200.50 h1.5 M455.00,188.45 h1.5 M455.00,176.40 h1.5 M455.00,164.35 h1.5 M455.00,224.60 v-1.5 M469.25,224.60 v-1.5 M483.50,224.60 v-1.5 M497.75,224.60 v-1.5 M512.00,224.60 v-1.5" stroke="#555" stroke-width="0.7"/>
<path d="M67.00,324.10 L67.00,312.60 C67.48,312.17 68.92,311.32 69.88,310.04 C70.83,308.76 71.89,307.38 72.75,304.93 C73.61,302.48 74.38,299.07 75.05,295.35 C75.72,291.62 76.15,287.68 76.78,282.56 C77.40,277.45 78.12,265.74 78.79,264.67 C79.46,263.61 80.27,275.86 80.80,276.18 C81.33,276.49 81.38,263.93 81.95,266.59 C82.53,269.25 83.15,285.65 84.25,292.15 C85.35,298.65 87.12,301.58 88.56,305.57 C90.00,309.56 91.49,313.56 92.88,316.11 C94.26,318.67 95.46,319.68 96.90,320.91 C98.34,322.13 96.90,322.93 101.50,323.46 C106.10,323.99 120.67,323.99 124.50,324.10 L124.50,324.10 Z" fill="#9d9d9d"/>
<path d="M67.00,322.82 C67.96,322.61 71.07,322.66 72.75,321.54 C74.43,320.43 75.62,320.80 77.06,316.11 C78.50,311.43 80.18,300.62 81.38,293.43 C82.57,286.24 83.48,276.39 84.25,272.98 C85.02,269.57 85.50,274.47 85.97,272.98 C86.45,271.49 86.55,263.77 87.12,264.03 C87.70,264.30 88.61,271.70 89.42,274.58 C90.24,277.45 91.25,277.51 92.01,281.29 C92.78,285.07 93.26,292.58 94.03,297.26 C94.79,301.95 95.75,306.26 96.61,309.40 C97.47,312.54 98.39,315.26 99.20,316.11 C100.01,316.96 100.64,314.67 101.50,314.52 C102.36,314.36 103.32,313.77 104.38,315.15 C105.43,316.54 106.39,321.33 107.82,322.82 C109.26,324.31 110.22,323.89 113.00,324.10 C115.78,324.31 122.58,324.10 124.50,324.10" fill="none" stroke="#000" stroke-width="0.95" stroke-linejoin="round"/>
<path d="M89.42,300.22 H113.86 M89.42,298.72 V301.72 M113.86,298.72 V301.72" stroke="#333" stroke-width="1" fill="none"/>
<text x="95.75" y="299.92" font-size="10.00" textLength="16.68" lengthAdjust="spacingAndGlyphs" fill="#111">41.7</text>
<rect x="67.00" y="260.20" width="57.50" height="63.90" fill="none" stroke="#333" stroke-width="1"/>
<path d="M67.00,324.10 h1.5 M67.00,312.09 h1.5 M67.00,300.07 h1.5 M67.00,288.06 h1.5 M67.00,276.05 h1.5 M67.00,264.03 h1.5 M67.00,324.10 v-1.5 M81.38,324.10 v-1.5 M95.75,324.10 v-1.5 M110.12,324.10 v-1.5 M124.50,324.10 v-1.5" stroke="#555" stroke-width="0.7"/>
<path d="M132.50,324.10 L132.50,324.10 C133.44,324.10 137.02,324.31 138.15,324.10 C139.28,323.89 138.81,326.02 139.28,322.82 C139.75,319.63 140.41,312.07 140.97,304.93 C141.54,297.79 142.20,286.40 142.67,280.01 C143.14,273.62 143.42,267.23 143.80,266.59 C144.18,265.95 144.46,276.49 144.93,276.18 C145.40,275.86 146.06,265.21 146.62,264.67 C147.19,264.14 147.85,272.13 148.32,272.98 C148.79,273.83 148.88,267.65 149.45,269.78 C150.01,271.91 151.00,281.18 151.71,285.76 C152.42,290.34 153.08,293.64 153.69,297.26 C154.30,300.88 154.82,304.72 155.38,307.49 C155.95,310.25 156.37,312.17 157.08,313.88 C157.78,315.58 158.82,316.54 159.62,317.71 C160.42,318.88 161.13,319.84 161.88,320.91 C162.63,321.97 159.62,323.57 164.14,324.10 C168.66,324.63 184.86,324.10 189.00,324.10 L189.00,324.10 Z" fill="#9d9d9d"/>
<path d="M132.50,323.46 C132.92,323.35 134.05,323.78 135.04,322.82 C136.03,321.86 137.26,320.59 138.43,317.71 C139.61,314.83 140.97,309.83 142.10,305.57 C143.23,301.31 144.27,295.56 145.21,292.15 C146.15,288.74 146.91,287.36 147.75,285.12 C148.60,282.88 149.45,280.65 150.30,278.73 C151.15,276.81 151.85,275.91 152.84,273.62 C153.83,271.33 155.24,264.46 156.23,264.99 C157.22,265.53 157.93,272.02 158.77,276.81 C159.62,281.61 160.47,288.42 161.31,293.75 C162.16,299.07 163.01,304.56 163.86,308.76 C164.71,312.97 165.51,316.43 166.40,318.99 C167.29,321.54 165.46,323.25 169.22,324.10 C172.99,324.95 185.70,324.10 189.00,324.10" fill="none" stroke="#000" stroke-width="0.95" stroke-linejoin="round"/>
<path d="M155.66,300.54 H179.96 M155.66,299.04 V302.04 M179.96,299.04 V302.04" stroke="#333" stroke-width="1" fill="none"/>
<text x="164.42" y="300.24" font-size="10.00" textLength="9.32" lengthAdjust="spacingAndGlyphs" fill="#111">32</text>
<rect x="132.50" y="260.20" width="56.50" height="63.90" fill="none" stroke="#333" stroke-width="1"/>
<path d="M132.50,324.10 h1.5 M132.50,312.09 h1.5 M132.50,300.07 h1.5 M132.50,288.06 h1.5 M132.50,276.05 h1.5 M132.50,264.03 h1.5 M132.50,324.10 v-1.5 M146.62,324.10 v-1.5 M160.75,324.10 v-1.5 M174.88,324.10 v-1.5 M189.00,324.10 v-1.5" stroke="#555" stroke-width="0.7"/>
<path d="M196.50,324.10 L196.50,314.52 C197.07,314.30 198.97,314.30 199.92,313.24 C200.87,312.17 201.34,310.57 202.20,308.12 C203.06,305.68 204.19,303.33 205.05,298.54 C205.91,293.75 206.67,285.01 207.33,279.37 C208.00,273.73 208.56,265.52 209.04,264.67 C209.51,263.82 209.75,273.41 210.18,274.26 C210.61,275.11 211.03,269.78 211.60,269.78 C212.17,269.78 212.84,269.68 213.60,274.26 C214.36,278.84 215.21,290.87 216.16,297.26 C217.12,303.65 218.30,309.40 219.30,312.60 C220.30,315.79 221.20,314.94 222.15,316.43 C223.10,317.92 224.05,320.37 225.00,321.54 C225.95,322.72 223.10,323.04 227.85,323.46 C232.60,323.89 249.22,323.99 253.50,324.10 L253.50,324.10 Z" fill="#9d9d9d"/>
<path d="M196.50,323.46 C197.93,323.35 202.49,324.05 205.05,322.82 C207.62,321.60 210.18,319.84 211.89,316.11 C213.60,312.38 214.31,306.79 215.31,300.46 C216.31,294.12 217.02,284.16 217.88,278.09 C218.73,272.02 219.54,264.35 220.44,264.03 C221.34,263.71 222.34,270.10 223.29,276.18 C224.24,282.25 225.28,293.80 226.14,300.46 C227.00,307.11 227.47,312.28 228.42,316.11 C229.37,319.95 230.51,322.13 231.84,323.46 C233.17,324.79 232.79,323.99 236.40,324.10 C240.01,324.21 250.65,324.10 253.50,324.10" fill="none" stroke="#000" stroke-width="0.95" stroke-linejoin="round"/>
<path d="M219.01,300.54 H242.38 M219.01,299.04 V302.04 M242.38,299.04 V302.04" stroke="#333" stroke-width="1" fill="none"/>
<text x="226.71" y="300.24" font-size="10.00" textLength="15.67" lengthAdjust="spacingAndGlyphs" fill="#111">71.6</text>
<rect x="196.50" y="260.20" width="57.00" height="63.90" fill="none" stroke="#333" stroke-width="1"/>
<path d="M196.50,324.10 h1.5 M196.50,312.09 h1.5 M196.50,300.07 h1.5 M196.50,288.06 h1.5 M196.50,276.05 h1.5 M196.50,264.03 h1.5 M196.50,324.10 v-1.5 M210.75,324.10 v-1.5 M225.00,324.10 v-1.5 M239.25,324.10 v-1.5 M253.50,324.10 v-1.5" stroke="#555" stroke-width="0.7"/>
<path d="M260.50,324.10 L260.50,314.52 C260.98,314.30 262.40,314.73 263.35,313.24 C264.30,311.75 265.25,308.23 266.20,305.57 C267.15,302.91 268.15,301.52 269.05,297.26 C269.95,293.00 270.90,285.44 271.62,280.01 C272.33,274.58 272.80,265.63 273.32,264.67 C273.85,263.71 274.23,273.73 274.75,274.26 C275.27,274.79 275.98,267.02 276.46,267.87 C276.94,268.72 276.94,274.47 277.60,279.37 C278.27,284.27 279.50,291.94 280.45,297.26 C281.40,302.59 282.16,307.91 283.30,311.32 C284.44,314.73 285.87,315.69 287.29,317.71 C288.72,319.73 286.82,322.40 291.85,323.46 C296.88,324.53 313.23,323.99 317.50,324.10 L317.50,324.10 Z" fill="#9d9d9d"/>
<path d="M260.50,323.46 C261.93,323.35 266.58,324.31 269.05,322.82 C271.52,321.33 273.70,318.78 275.32,314.52 C276.94,310.26 277.88,303.33 278.74,297.26 C279.60,291.19 279.83,283.63 280.45,278.09 C281.07,272.55 281.64,264.62 282.44,264.03 C283.25,263.45 284.49,269.89 285.30,274.58 C286.10,279.26 286.48,286.35 287.29,292.15 C288.10,297.95 289.28,304.72 290.14,309.40 C291.00,314.09 291.47,317.82 292.42,320.27 C293.37,322.72 291.66,323.46 295.84,324.10 C300.02,324.74 313.89,324.10 317.50,324.10" fill="none" stroke="#000" stroke-width="0.95" stroke-linejoin="round"/>
<path d="M282.16,300.22 H306.95 M282.16,298.72 V301.72 M306.95,298.72 V301.72" stroke="#333" stroke-width="1" fill="none"/>
<text x="292.42" y="299.92" font-size="10.00" textLength="9.40" lengthAdjust="spacingAndGlyphs" fill="#111">53</text>
<rect x="260.50" y="260.20" width="57.00" height="63.90" fill="none" stroke="#333" stroke-width="1"/>
<path d="M260.50,324.10 h1.5 M260.50,312.09 h1.5 M260.50,300.07 h1.5 M260.50,288.06 h1.5 M260.50,276.05 h1.5 M260.50,264.03 h1.5 M260.50,324.10 v-1.5 M274.75,324.10 v-1.5 M289.00,324.10 v-1.5 M303.25,324.10 v-1.5 M317.50,324.10 v-1.5" stroke="#555" stroke-width="0.7"/>
<path d="M325.50,324.10 L325.50,320.91 C326.11,319.31 328.14,313.13 329.17,311.32 C330.21,309.51 330.73,311.53 331.71,310.04 C332.70,308.55 334.07,306.00 335.11,302.37 C336.14,298.75 337.18,292.68 337.93,288.32 C338.68,283.95 338.92,280.22 339.62,276.18 C340.33,272.13 341.32,262.54 342.17,264.03 C343.01,265.52 344.00,278.41 344.71,285.12 C345.42,291.83 345.84,298.81 346.40,304.29 C346.97,309.78 347.54,314.73 348.10,318.03 C348.67,321.33 344.15,323.09 349.80,324.10 C355.44,325.11 376.63,324.10 382.00,324.10 L382.00,324.10 Z" fill="#9d9d9d"/>
<path d="M325.50,322.82 C326.11,321.12 328.14,314.73 329.17,312.60 C330.21,310.47 330.73,311.96 331.71,310.04 C332.70,308.12 334.07,304.93 335.11,301.10 C336.14,297.26 337.18,291.30 337.93,287.04 C338.68,282.78 338.97,279.37 339.62,275.54 C340.28,271.70 341.08,262.54 341.88,264.03 C342.69,265.52 343.67,277.67 344.43,284.48 C345.18,291.30 345.79,299.29 346.40,304.93 C347.02,310.57 347.54,315.15 348.10,318.35 C348.67,321.54 344.15,323.14 349.80,324.10 C355.44,325.06 376.63,324.10 382.00,324.10" fill="none" stroke="#000" stroke-width="0.95" stroke-linejoin="round"/>
<rect x="325.50" y="260.20" width="56.50" height="63.90" fill="none" stroke="#333" stroke-width="1"/>
<path d="M325.50,324.10 h1.5 M325.50,312.09 h1.5 M325.50,300.07 h1.5 M325.50,288.06 h1.5 M325.50,276.05 h1.5 M325.50,264.03 h1.5 M325.50,324.10 v-1.5 M339.62,324.10 v-1.5 M353.75,324.10 v-1.5 M367.88,324.10 v-1.5 M382.00,324.10 v-1.5" stroke="#555" stroke-width="0.7"/>
<path d="M389.50,324.10 L389.50,314.52 C389.98,313.77 391.42,311.11 392.38,310.04 C393.33,308.98 394.29,308.66 395.25,308.12 C396.21,307.59 397.17,308.13 398.12,306.85 C399.08,305.57 400.09,304.40 401.00,300.46 C401.91,296.52 402.63,289.27 403.59,283.20 C404.55,277.13 405.84,264.89 406.75,264.03 C407.66,263.18 408.38,273.41 409.05,278.09 C409.72,282.78 410.10,286.08 410.77,292.15 C411.45,298.22 412.31,309.19 413.07,314.52 C413.84,319.84 409.72,322.50 415.38,324.10 C421.03,325.70 441.73,324.10 447.00,324.10 L447.00,324.10 Z" fill="#9d9d9d"/>
<path d="M389.50,322.82 C390.75,321.12 395.06,315.90 396.98,312.60 C398.89,309.30 399.90,307.06 401.00,303.01 C402.10,298.97 402.63,294.81 403.59,288.32 C404.55,281.82 405.84,265.74 406.75,264.03 C407.66,262.33 408.38,273.94 409.05,278.09 C409.72,282.25 410.20,283.42 410.77,288.95 C411.35,294.49 411.93,305.57 412.50,311.32 C413.07,317.07 413.27,321.33 414.23,323.46 C415.18,325.59 412.79,323.99 418.25,324.10 C423.71,324.21 442.21,324.10 447.00,324.10" fill="none" stroke="#000" stroke-width="0.95" stroke-linejoin="round"/>
<rect x="389.50" y="260.20" width="57.50" height="63.90" fill="none" stroke="#333" stroke-width="1"/>
<path d="M389.50,324.10 h1.5 M389.50,312.09 h1.5 M389.50,300.07 h1.5 M389.50,288.06 h1.5 M389.50,276.05 h1.5 M389.50,264.03 h1.5 M389.50,324.10 v-1.5 M403.88,324.10 v-1.5 M418.25,324.10 v-1.5 M432.62,324.10 v-1.5 M447.00,324.10 v-1.5" stroke="#555" stroke-width="0.7"/>
<path d="M67.00,395.50 L67.00,394.22 C67.67,393.36 69.49,392.82 71.03,389.08 C72.56,385.33 74.76,377.52 76.20,371.75 C77.64,365.97 78.40,360.51 79.65,354.41 C80.90,348.31 82.62,335.15 83.67,335.15 C84.73,335.15 85.40,349.70 85.97,354.41 C86.55,359.12 86.74,358.80 87.12,363.40 C87.51,368.00 87.51,377.90 88.28,382.02 C89.04,386.14 90.48,386.41 91.72,388.12 C92.97,389.83 94.12,391.06 95.75,392.29 C97.38,393.52 96.71,394.97 101.50,395.50 C106.29,396.03 120.67,395.50 124.50,395.50 L124.50,395.50 Z" fill="#9d9d9d"/>
<path d="M67.00,394.86 C68.44,394.75 72.94,395.50 75.62,394.22 C78.31,392.93 81.38,392.40 83.10,387.15 C84.82,381.91 85.06,370.25 85.97,362.76 C86.89,355.27 87.84,346.81 88.56,342.21 C89.28,337.61 89.76,333.12 90.29,335.15 C90.81,337.19 91.20,347.19 91.72,354.41 C92.25,361.63 92.68,372.71 93.45,378.49 C94.22,384.26 95.27,386.57 96.33,389.08 C97.38,391.59 98.43,392.50 99.78,393.57 C101.12,394.64 100.25,395.18 104.38,395.50 C108.50,395.82 121.15,395.50 124.50,395.50" fill="none" stroke="#000" stroke-width="0.95" stroke-linejoin="round"/>
<path d="M87.70,369.18 H121.05 M87.70,367.68 V370.68 M121.05,367.68 V370.68" stroke="#333" stroke-width="1" fill="none"/>
<text x="99.78" y="368.78" font-size="10.30" textLength="16.67" lengthAdjust="spacingAndGlyphs" fill="#111">88.1</text>
<rect x="67.00" y="331.30" width="57.50" height="64.20" fill="none" stroke="#333" stroke-width="1"/>
<path d="M67.00,395.50 h1.5 M67.00,383.43 h1.5 M67.00,371.36 h1.5 M67.00,359.29 h1.5 M67.00,347.22 h1.5 M67.00,335.15 h1.5 M67.00,395.50 v-1.5 M81.38,395.50 v-1.5 M95.75,395.50 v-1.5 M110.12,395.50 v-1.5 M124.50,395.50 v-1.5" stroke="#555" stroke-width="0.7"/>
<path d="M132.50,395.50 L132.50,394.22 C133.35,393.36 136.27,391.54 137.59,389.08 C138.90,386.62 139.28,383.73 140.41,379.45 C141.54,375.17 143.24,368.75 144.37,363.40 C145.50,358.05 146.44,351.42 147.19,347.35 C147.94,343.28 148.41,340.93 148.88,339.00 C149.36,337.08 149.64,335.79 150.01,335.79 C150.39,335.79 150.77,336.76 151.15,339.00 C151.52,341.25 151.90,345.21 152.28,349.28 C152.65,353.34 152.75,358.37 153.41,363.40 C154.06,368.43 154.82,375.17 156.23,379.45 C157.64,383.73 160.19,386.73 161.88,389.08 C163.57,391.43 164.71,392.50 166.40,393.57 C168.09,394.64 168.28,395.18 172.05,395.50 C175.82,395.82 186.18,395.50 189.00,395.50 L189.00,395.50 Z" fill="#9d9d9d"/>
<path d="M132.50,394.22 C133.25,393.47 135.75,392.18 137.02,389.72 C138.29,387.26 138.95,383.84 140.13,379.45 C141.30,375.06 142.95,368.75 144.08,363.40 C145.21,358.05 146.15,351.42 146.91,347.35 C147.66,343.28 148.13,341.04 148.60,339.00 C149.07,336.97 149.31,335.37 149.73,335.15 C150.16,334.94 150.67,335.37 151.15,337.72 C151.62,340.07 152.09,345.00 152.56,349.28 C153.03,353.56 153.26,358.37 153.97,363.40 C154.68,368.43 155.38,375.17 156.79,379.45 C158.21,383.73 160.66,386.73 162.44,389.08 C164.23,391.43 165.46,392.50 167.53,393.57 C169.60,394.64 171.30,395.18 174.88,395.50 C178.45,395.82 186.65,395.50 189.00,395.50" fill="none" stroke="#000" stroke-width="0.95" stroke-linejoin="round"/>
<rect x="132.50" y="331.30" width="56.50" height="64.20" fill="none" stroke="#333" stroke-width="1"/>
<path d="M132.50,395.50 h1.5 M132.50,383.43 h1.5 M132.50,371.36 h1.5 M132.50,359.29 h1.5 M132.50,347.22 h1.5 M132.50,335.15 h1.5 M132.50,395.50 v-1.5 M146.62,395.50 v-1.5 M160.75,395.50 v-1.5 M174.88,395.50 v-1.5 M189.00,395.50 v-1.5" stroke="#555" stroke-width="0.7"/>
<path d="M196.50,395.50 L196.50,394.22 C197.45,393.36 200.68,391.43 202.20,389.08 C203.72,386.73 204.43,385.87 205.62,380.09 C206.81,374.31 208.19,361.90 209.32,354.41 C210.46,346.92 211.56,333.76 212.46,335.15 C213.36,336.54 214.08,355.27 214.74,362.76 C215.41,370.25 215.69,376.24 216.45,380.09 C217.21,383.94 218.16,384.37 219.30,385.87 C220.44,387.37 222.15,387.90 223.29,389.08 C224.43,390.26 224.90,391.86 226.14,392.93 C227.38,394.00 226.14,395.07 230.70,395.50 C235.26,395.93 249.70,395.50 253.50,395.50 L253.50,395.50 Z" fill="#9d9d9d"/>
<path d="M196.50,394.86 C197.93,394.64 202.63,394.54 205.05,393.57 C207.47,392.61 209.28,392.72 211.03,389.08 C212.79,385.44 214.26,378.38 215.59,371.75 C216.93,365.11 217.73,355.05 219.01,349.28 C220.30,343.50 222.01,336.22 223.29,337.08 C224.57,337.93 225.52,347.51 226.71,354.41 C227.90,361.31 229.23,372.44 230.41,378.49 C231.60,384.53 232.65,387.85 233.84,390.69 C235.02,393.52 234.26,394.70 237.54,395.50 C240.82,396.30 250.84,395.50 253.50,395.50" fill="none" stroke="#000" stroke-width="0.95" stroke-linejoin="round"/>
<path d="M216.45,368.54 H250.37 M216.45,367.04 V370.04 M250.37,367.04 V370.04" stroke="#333" stroke-width="1" fill="none"/>
<text x="229.56" y="368.14" font-size="10.30" textLength="15.96" lengthAdjust="spacingAndGlyphs" fill="#111">87.7</text>
<rect x="196.50" y="331.30" width="57.00" height="64.20" fill="none" stroke="#333" stroke-width="1"/>
<path d="M196.50,395.50 h1.5 M196.50,383.43 h1.5 M196.50,371.36 h1.5 M196.50,359.29 h1.5 M196.50,347.22 h1.5 M196.50,335.15 h1.5 M196.50,395.50 v-1.5 M210.75,395.50 v-1.5 M225.00,395.50 v-1.5 M239.25,395.50 v-1.5 M253.50,395.50 v-1.5" stroke="#555" stroke-width="0.7"/>
<path d="M260.50,395.50 L260.50,394.22 C261.36,393.36 264.06,392.29 265.63,389.08 C267.20,385.87 268.62,380.73 269.90,374.96 C271.19,369.18 272.23,361.05 273.32,354.41 C274.42,347.78 275.56,334.94 276.46,335.15 C277.36,335.37 278.07,349.38 278.74,355.70 C279.41,362.01 279.40,368.11 280.45,373.03 C281.50,377.95 283.58,382.12 285.01,385.23 C286.44,388.33 287.86,389.94 289.00,391.65 C290.14,393.36 287.10,394.86 291.85,395.50 C296.60,396.14 313.23,395.50 317.50,395.50 L317.50,395.50 Z" fill="#9d9d9d"/>
<path d="M260.50,394.86 C261.64,394.64 265.15,394.54 267.34,393.57 C269.52,392.61 271.71,392.18 273.61,389.08 C275.51,385.98 277.31,380.73 278.74,374.96 C280.17,369.18 281.12,360.19 282.16,354.41 C283.21,348.63 284.15,343.50 285.01,340.29 C285.87,337.08 286.58,332.80 287.29,335.15 C288.00,337.51 288.67,347.46 289.29,354.41 C289.90,361.37 290.43,370.84 291.00,376.88 C291.56,382.93 292.09,387.58 292.70,390.69 C293.32,393.79 290.57,394.70 294.70,395.50 C298.83,396.30 313.70,395.50 317.50,395.50" fill="none" stroke="#000" stroke-width="0.95" stroke-linejoin="round"/>
<path d="M281.31,368.54 H303.25 M281.31,367.04 V370.04 M303.25,367.04 V370.04" stroke="#333" stroke-width="1" fill="none"/>
<text x="291.85" y="368.14" font-size="10.30" textLength="16.53" lengthAdjust="spacingAndGlyphs" fill="#111">81.6</text>
<rect x="260.50" y="331.30" width="57.00" height="64.20" fill="none" stroke="#333" stroke-width="1"/>
<path d="M260.50,395.50 h1.5 M260.50,383.43 h1.5 M260.50,371.36 h1.5 M260.50,359.29 h1.5 M260.50,347.22 h1.5 M260.50,335.15 h1.5 M260.50,395.50 v-1.5 M274.75,395.50 v-1.5 M289.00,395.50 v-1.5 M303.25,395.50 v-1.5 M317.50,395.50 v-1.5" stroke="#555" stroke-width="0.7"/>
<path d="M325.50,395.50 L325.50,383.94 C326.31,381.59 328.95,375.06 330.36,369.82 C331.77,364.58 332.90,357.62 333.98,352.49 C335.05,347.35 336.09,341.89 336.80,339.00 C337.51,336.12 337.74,334.83 338.21,335.15 C338.68,335.47 339.20,338.04 339.62,340.93 C340.05,343.82 340.14,347.67 340.75,352.49 C341.37,357.30 342.45,365.65 343.30,369.82 C344.14,373.99 344.29,375.01 345.84,377.52 C347.39,380.04 350.36,382.45 352.62,384.91 C354.88,387.37 358.13,390.52 359.40,392.29 C360.67,394.06 356.48,394.97 360.25,395.50 C364.01,396.03 378.37,395.50 382.00,395.50 L382.00,395.50 Z" fill="#9d9d9d"/>
<path d="M325.50,394.22 C326.44,394.11 329.45,394.17 331.15,393.57 C332.84,392.97 334.35,391.98 335.67,390.62 C336.99,389.26 337.93,387.45 339.06,385.42 C340.19,383.39 341.41,381.61 342.45,378.42 C343.49,375.23 344.33,370.93 345.27,366.29 C346.22,361.65 347.25,354.63 348.10,350.56 C348.95,346.49 349.56,344.46 350.36,341.89 C351.16,339.33 352.15,334.24 352.90,335.15 C353.66,336.06 354.27,342.75 354.88,347.35 C355.49,351.95 355.96,356.98 356.57,362.76 C357.19,368.54 357.99,377.10 358.55,382.02 C359.12,386.94 359.45,390.04 359.96,392.29 C360.48,394.54 357.99,394.97 361.66,395.50 C365.33,396.03 378.61,395.50 382.00,395.50" fill="none" stroke="#000" stroke-width="0.95" stroke-linejoin="round"/>
<path d="M343.58,368.54 H374.65 M343.58,367.04 V370.04 M374.65,367.04 V370.04" stroke="#333" stroke-width="1" fill="none"/>
<text x="360.53" y="368.14" font-size="10.30" textLength="15.26" lengthAdjust="spacingAndGlyphs" fill="#111">77.9</text>
<rect x="325.50" y="331.30" width="56.50" height="64.20" fill="none" stroke="#333" stroke-width="1"/>
<path d="M325.50,395.50 h1.5 M325.50,383.43 h1.5 M325.50,371.36 h1.5 M325.50,359.29 h1.5 M325.50,347.22 h1.5 M325.50,335.15 h1.5 M325.50,395.50 v-1.5 M339.62,395.50 v-1.5 M353.75,395.50 v-1.5 M367.88,395.50 v-1.5 M382.00,395.50 v-1.5" stroke="#555" stroke-width="0.7"/>
<path d="M389.50,395.50 L389.50,373.03 C389.74,372.92 390.46,371.75 390.94,372.39 C391.42,373.03 391.85,376.88 392.38,376.88 C392.90,376.88 393.62,373.89 394.10,372.39 C394.58,370.89 394.48,371.53 395.25,367.89 C396.02,364.26 397.74,355.27 398.70,350.56 C399.66,345.85 400.43,342.00 401.00,339.65 C401.57,337.29 401.53,337.02 402.15,336.44 C402.77,335.85 403.97,334.83 404.74,336.12 C405.50,337.40 405.98,339.70 406.75,344.14 C407.52,348.58 408.47,356.77 409.34,362.76 C410.20,368.75 411.01,375.44 411.93,380.09 C412.84,384.75 413.75,388.12 414.80,390.69 C415.85,393.25 412.88,394.70 418.25,395.50 C423.62,396.30 442.21,395.50 447.00,395.50 L447.00,395.50 Z" fill="#9d9d9d"/>
<path d="M389.50,394.86 C390.94,394.75 395.15,394.91 398.12,394.22 C401.10,393.52 404.88,393.57 407.32,390.69 C409.77,387.80 411.30,383.25 412.79,376.88 C414.27,370.52 414.94,359.44 416.24,352.49 C417.53,345.53 419.26,334.83 420.55,335.15 C421.84,335.47 422.99,347.19 424.00,354.41 C425.01,361.63 425.58,372.28 426.59,378.49 C427.59,384.69 428.94,388.81 430.04,391.65 C431.14,394.48 430.37,394.86 433.20,395.50 C436.03,396.14 444.70,395.50 447.00,395.50" fill="none" stroke="#000" stroke-width="0.95" stroke-linejoin="round"/>
<path d="M410.20,368.54 H447.00 M410.20,367.04 V370.04 M447.00,367.04 V370.04" stroke="#333" stroke-width="1" fill="none"/>
<text x="428.02" y="368.14" font-size="10.30" textLength="16.10" lengthAdjust="spacingAndGlyphs" fill="#111">96.6</text>
<rect x="389.50" y="331.30" width="57.50" height="64.20" fill="none" stroke="#333" stroke-width="1"/>
<path d="M389.50,395.50 h1.5 M389.50,383.43 h1.5 M389.50,371.36 h1.5 M389.50,359.29 h1.5 M389.50,347.22 h1.5 M389.50,335.15 h1.5 M389.50,395.50 v-1.5 M403.88,395.50 v-1.5 M418.25,395.50 v-1.5 M432.62,395.50 v-1.5 M447.00,395.50 v-1.5" stroke="#555" stroke-width="0.7"/>
<text x="3.00" y="16.50" font-size="16.50" textLength="12.00" lengthAdjust="spacingAndGlyphs" font-weight="bold" fill="#000">A</text>
<text x="5.00" y="260.40" font-size="16.50" textLength="10.20" lengthAdjust="spacingAndGlyphs" font-weight="bold" fill="#000">B</text>
<text x="88.10" y="14.60" font-size="11.60" textLength="21.50" lengthAdjust="spacingAndGlyphs" fill="#111">Ly49</text>
<text x="145.00" y="14.60" font-size="11.60" textLength="30.50" lengthAdjust="spacingAndGlyphs" fill="#111">CD11b</text>
<text x="211.00" y="14.60" font-size="11.60" textLength="31.50" lengthAdjust="spacingAndGlyphs" fill="#111">CD62L</text>
<text x="277.50" y="14.60" font-size="11.60" textLength="27.00" lengthAdjust="spacingAndGlyphs" fill="#111">CD25</text>
<text x="339.50" y="14.60" font-size="11.60" textLength="31.00" lengthAdjust="spacingAndGlyphs" fill="#111">CD127</text>
<text x="412.50" y="14.60" font-size="11.60" textLength="20.00" lengthAdjust="spacingAndGlyphs" fill="#111">DX5</text>
<text x="475.00" y="14.60" font-size="11.60" textLength="26.00" lengthAdjust="spacingAndGlyphs" fill="#111">CD69</text>
<text x="86.00" y="258.50" font-size="11.60" textLength="23.00" lengthAdjust="spacingAndGlyphs" fill="#111">Ly49</text>
<text x="146.00" y="258.50" font-size="11.60" textLength="32.00" lengthAdjust="spacingAndGlyphs" fill="#111">CD11b</text>
<text x="214.00" y="258.50" font-size="11.60" textLength="26.00" lengthAdjust="spacingAndGlyphs" fill="#111">CD25</text>
<text x="275.00" y="258.50" font-size="11.60" textLength="32.00" lengthAdjust="spacingAndGlyphs" fill="#111">CD127</text>
<text x="343.00" y="258.50" font-size="11.60" textLength="19.50" lengthAdjust="spacingAndGlyphs" fill="#111">DX5</text>
<text x="406.00" y="258.50" font-size="11.60" textLength="26.00" lengthAdjust="spacingAndGlyphs" fill="#111">CD69</text>
<text x="17.90" y="53.70" font-size="11.60" textLength="31.10" lengthAdjust="spacingAndGlyphs" fill="#111">Spleen</text>
<text x="13.30" y="125.80" font-size="11.60" textLength="36.10" lengthAdjust="spacingAndGlyphs" fill="#111">Thymus</text>
<text x="19.00" y="194.80" font-size="11.60" textLength="28.80" lengthAdjust="spacingAndGlyphs" fill="#111">In vitro</text>
<text x="17.00" y="208.70" font-size="11.60" textLength="31.40" lengthAdjust="spacingAndGlyphs" fill="#111">Day 19</text>
<text x="25.90" y="294.80" font-size="11.60" textLength="21.20" lengthAdjust="spacingAndGlyphs" fill="#111">0 hrs</text>
<text x="19.70" y="360.10" font-size="11.60" textLength="27.30" lengthAdjust="spacingAndGlyphs" fill="#111">36 hrs</text>
<path d="M56,23 V175.5" stroke="#777" stroke-width="1.1"/><path d="M56,18.8 L53.8,24 L58.2,24 Z" fill="#000"/><path d="M56,268 V327" stroke="#777" stroke-width="1.1"/><path d="M56,264.5 L54,269.5 L58,269.5 Z" fill="#000"/><text transform="translate(59.3,222.3) rotate(-90)" font-size="10.6" textLength="39.5" lengthAdjust="spacingAndGlyphs" fill="#111">% of max</text><text transform="translate(59.5,387.2) rotate(-90)" font-size="10.6" textLength="39.8" lengthAdjust="spacingAndGlyphs" fill="#111">% of max</text><rect x="453.5" y="301.5" width="60" height="39" fill="#fff" stroke="#555" stroke-width="1"/><path d="M457.7,313.8 H472.3" stroke="#000" stroke-width="3"/><path d="M457.7,330 H472.3" stroke="#9b9b9b" stroke-width="3"/><text x="477" y="317.7" font-size="10.8" textLength="30.7" lengthAdjust="spacingAndGlyphs" fill="#111">Marker</text><text x="477" y="333.2" font-size="10.8" textLength="33" lengthAdjust="spacingAndGlyphs" fill="#111">Isotype</text><text x="65.50" y="82.40" font-size="4.6" text-anchor="end" fill="#555" style="stroke-width:0.15px;stroke:#555">0</text><text x="65.50" y="70.39" font-size="4.6" text-anchor="end" fill="#555" style="stroke-width:0.15px;stroke:#555">20</text><text x="65.50" y="58.37" font-size="4.6" text-anchor="end" fill="#555" style="stroke-width:0.15px;stroke:#555">40</text><text x="65.50" y="46.36" font-size="4.6" text-anchor="end" fill="#555" style="stroke-width:0.15px;stroke:#555">60</text><text x="65.50" y="34.35" font-size="4.6" text-anchor="end" fill="#555" style="stroke-width:0.15px;stroke:#555">80</text><text x="65.50" y="22.33" font-size="4.6" text-anchor="end" fill="#555" style="stroke-width:0.15px;stroke:#555">100</text><text x="65.50" y="153.40" font-size="4.6" text-anchor="end" fill="#555" style="stroke-width:0.15px;stroke:#555">0</text><text x="65.50" y="141.20" font-size="4.6" text-anchor="end" fill="#555" style="stroke-width:0.15px;stroke:#555">20</text><text x="65.50" y="129.00" font-size="4.6" text-anchor="end" fill="#555" style="stroke-width:0.15px;stroke:#555">40</text><text x="65.50" y="116.80" font-size="4.6" text-anchor="end" fill="#555" style="stroke-width:0.15px;stroke:#555">60</text><text x="65.50" y="104.60" font-size="4.6" text-anchor="end" fill="#555" style="stroke-width:0.15px;stroke:#555">80</text><text x="65.50" y="92.39" font-size="4.6" text-anchor="end" fill="#555" style="stroke-width:0.15px;stroke:#555">100</text><text x="65.50" y="226.30" font-size="4.6" text-anchor="end" fill="#555" style="stroke-width:0.15px;stroke:#555">0</text><text x="65.50" y="214.25" font-size="4.6" text-anchor="end" fill="#555" style="stroke-width:0.15px;stroke:#555">20</text><text x="65.50" y="202.20" font-size="4.6" text-anchor="end" fill="#555" style="stroke-width:0.15px;stroke:#555">40</text><text x="65.50" y="190.15" font-size="4.6" text-anchor="end" fill="#555" style="stroke-width:0.15px;stroke:#555">60</text><text x="65.50" y="178.10" font-size="4.6" text-anchor="end" fill="#555" style="stroke-width:0.15px;stroke:#555">80</text><text x="65.50" y="166.05" font-size="4.6" text-anchor="end" fill="#555" style="stroke-width:0.15px;stroke:#555">100</text><text x="65.50" y="325.80" font-size="4.6" text-anchor="end" fill="#555" style="stroke-width:0.15px;stroke:#555">0</text><text x="65.50" y="313.79" font-size="4.6" text-anchor="end" fill="#555" style="stroke-width:0.15px;stroke:#555">20</text><text x="65.50" y="301.77" font-size="4.6" text-anchor="end" fill="#555" style="stroke-width:0.15px;stroke:#555">40</text><text x="65.50" y="289.76" font-size="4.6" text-anchor="end" fill="#555" style="stroke-width:0.15px;stroke:#555">60</text><text x="65.50" y="277.75" font-size="4.6" text-anchor="end" fill="#555" style="stroke-width:0.15px;stroke:#555">80</text><text x="65.50" y="265.73" font-size="4.6" text-anchor="end" fill="#555" style="stroke-width:0.15px;stroke:#555">100</text><text x="65.50" y="397.20" font-size="4.6" text-anchor="end" fill="#555" style="stroke-width:0.15px;stroke:#555">0</text><text x="65.50" y="385.13" font-size="4.6" text-anchor="end" fill="#555" style="stroke-width:0.15px;stroke:#555">20</text><text x="65.50" y="373.06" font-size="4.6" text-anchor="end" fill="#555" style="stroke-width:0.15px;stroke:#555">40</text><text x="65.50" y="360.99" font-size="4.6" text-anchor="end" fill="#555" style="stroke-width:0.15px;stroke:#555">60</text><text x="65.50" y="348.92" font-size="4.6" text-anchor="end" fill="#555" style="stroke-width:0.15px;stroke:#555">80</text><text x="65.50" y="336.85" font-size="4.6" text-anchor="end" fill="#555" style="stroke-width:0.15px;stroke:#555">100</text><text transform="translate(67.00,232.80) rotate(-30)" font-size="5.4" text-anchor="middle" fill="#666" style="stroke-width:0.1px;stroke:#666">10<tspan font-size="3.8" dy="-1.8">0</tspan></text><text transform="translate(80.83,232.80) rotate(-30)" font-size="5.4" text-anchor="middle" fill="#666" style="stroke-width:0.1px;stroke:#666">10<tspan font-size="3.8" dy="-1.8">1</tspan></text><text transform="translate(94.65,232.80) rotate(-30)" font-size="5.4" text-anchor="middle" fill="#666" style="stroke-width:0.1px;stroke:#666">10<tspan font-size="3.8" dy="-1.8">2</tspan></text><text transform="translate(108.47,232.80) rotate(-30)" font-size="5.4" text-anchor="middle" fill="#666" style="stroke-width:0.1px;stroke:#666">10<tspan font-size="3.8" dy="-1.8">3</tspan></text><text transform="translate(122.30,232.80) rotate(-30)" font-size="5.4" text-anchor="middle" fill="#666" style="stroke-width:0.1px;stroke:#666">10<tspan font-size="3.8" dy="-1.8">4</tspan></text><text transform="translate(130.00,232.80) rotate(-30)" font-size="5.4" text-anchor="middle" fill="#666" style="stroke-width:0.1px;stroke:#666">10<tspan font-size="3.8" dy="-1.8">0</tspan></text><text transform="translate(143.93,232.80) rotate(-30)" font-size="5.4" text-anchor="middle" fill="#666" style="stroke-width:0.1px;stroke:#666">10<tspan font-size="3.8" dy="-1.8">1</tspan></text><text transform="translate(157.85,232.80) rotate(-30)" font-size="5.4" text-anchor="middle" fill="#666" style="stroke-width:0.1px;stroke:#666">10<tspan font-size="3.8" dy="-1.8">2</tspan></text><text transform="translate(171.77,232.80) rotate(-30)" font-size="5.4" text-anchor="middle" fill="#666" style="stroke-width:0.1px;stroke:#666">10<tspan font-size="3.8" dy="-1.8">3</tspan></text><text transform="translate(185.70,232.80) rotate(-30)" font-size="5.4" text-anchor="middle" fill="#666" style="stroke-width:0.1px;stroke:#666">10<tspan font-size="3.8" dy="-1.8">4</tspan></text><text transform="translate(195.60,232.80) rotate(-30)" font-size="5.4" text-anchor="middle" fill="#666" style="stroke-width:0.1px;stroke:#666">10<tspan font-size="3.8" dy="-1.8">0</tspan></text><text transform="translate(209.65,232.80) rotate(-30)" font-size="5.4" text-anchor="middle" fill="#666" style="stroke-width:0.1px;stroke:#666">10<tspan font-size="3.8" dy="-1.8">1</tspan></text><text transform="translate(223.70,232.80) rotate(-30)" font-size="5.4" text-anchor="middle" fill="#666" style="stroke-width:0.1px;stroke:#666">10<tspan font-size="3.8" dy="-1.8">2</tspan></text><text transform="translate(237.75,232.80) rotate(-30)" font-size="5.4" text-anchor="middle" fill="#666" style="stroke-width:0.1px;stroke:#666">10<tspan font-size="3.8" dy="-1.8">3</tspan></text><text transform="translate(251.80,232.80) rotate(-30)" font-size="5.4" text-anchor="middle" fill="#666" style="stroke-width:0.1px;stroke:#666">10<tspan font-size="3.8" dy="-1.8">4</tspan></text><text transform="translate(260.20,232.80) rotate(-30)" font-size="5.4" text-anchor="middle" fill="#666" style="stroke-width:0.1px;stroke:#666">10<tspan font-size="3.8" dy="-1.8">0</tspan></text><text transform="translate(274.38,232.80) rotate(-30)" font-size="5.4" text-anchor="middle" fill="#666" style="stroke-width:0.1px;stroke:#666">10<tspan font-size="3.8" dy="-1.8">1</tspan></text><text transform="translate(288.55,232.80) rotate(-30)" font-size="5.4" text-anchor="middle" fill="#666" style="stroke-width:0.1px;stroke:#666">10<tspan font-size="3.8" dy="-1.8">2</tspan></text><text transform="translate(302.72,232.80) rotate(-30)" font-size="5.4" text-anchor="middle" fill="#666" style="stroke-width:0.1px;stroke:#666">10<tspan font-size="3.8" dy="-1.8">3</tspan></text><text transform="translate(316.90,232.80) rotate(-30)" font-size="5.4" text-anchor="middle" fill="#666" style="stroke-width:0.1px;stroke:#666">10<tspan font-size="3.8" dy="-1.8">4</tspan></text><text transform="translate(325.50,232.80) rotate(-30)" font-size="5.4" text-anchor="middle" fill="#666" style="stroke-width:0.1px;stroke:#666">10<tspan font-size="3.8" dy="-1.8">0</tspan></text><text transform="translate(339.43,232.80) rotate(-30)" font-size="5.4" text-anchor="middle" fill="#666" style="stroke-width:0.1px;stroke:#666">10<tspan font-size="3.8" dy="-1.8">1</tspan></text><text transform="translate(353.35,232.80) rotate(-30)" font-size="5.4" text-anchor="middle" fill="#666" style="stroke-width:0.1px;stroke:#666">10<tspan font-size="3.8" dy="-1.8">2</tspan></text><text transform="translate(367.27,232.80) rotate(-30)" font-size="5.4" text-anchor="middle" fill="#666" style="stroke-width:0.1px;stroke:#666">10<tspan font-size="3.8" dy="-1.8">3</tspan></text><text transform="translate(381.20,232.80) rotate(-30)" font-size="5.4" text-anchor="middle" fill="#666" style="stroke-width:0.1px;stroke:#666">10<tspan font-size="3.8" dy="-1.8">4</tspan></text><text transform="translate(389.50,232.80) rotate(-30)" font-size="5.4" text-anchor="middle" fill="#666" style="stroke-width:0.1px;stroke:#666">10<tspan font-size="3.8" dy="-1.8">0</tspan></text><text transform="translate(403.57,232.80) rotate(-30)" font-size="5.4" text-anchor="middle" fill="#666" style="stroke-width:0.1px;stroke:#666">10<tspan font-size="3.8" dy="-1.8">1</tspan></text><text transform="translate(417.65,232.80) rotate(-30)" font-size="5.4" text-anchor="middle" fill="#666" style="stroke-width:0.1px;stroke:#666">10<tspan font-size="3.8" dy="-1.8">2</tspan></text><text transform="translate(431.73,232.80) rotate(-30)" font-size="5.4" text-anchor="middle" fill="#666" style="stroke-width:0.1px;stroke:#666">10<tspan font-size="3.8" dy="-1.8">3</tspan></text><text transform="translate(445.80,232.80) rotate(-30)" font-size="5.4" text-anchor="middle" fill="#666" style="stroke-width:0.1px;stroke:#666">10<tspan font-size="3.8" dy="-1.8">4</tspan></text><text transform="translate(455.00,232.80) rotate(-30)" font-size="5.4" text-anchor="middle" fill="#666" style="stroke-width:0.1px;stroke:#666">10<tspan font-size="3.8" dy="-1.8">0</tspan></text><text transform="translate(469.25,232.80) rotate(-30)" font-size="5.4" text-anchor="middle" fill="#666" style="stroke-width:0.1px;stroke:#666">10<tspan font-size="3.8" dy="-1.8">1</tspan></text><text transform="translate(483.50,232.80) rotate(-30)" font-size="5.4" text-anchor="middle" fill="#666" style="stroke-width:0.1px;stroke:#666">10<tspan font-size="3.8" dy="-1.8">2</tspan></text><text transform="translate(497.75,232.80) rotate(-30)" font-size="5.4" text-anchor="middle" fill="#666" style="stroke-width:0.1px;stroke:#666">10<tspan font-size="3.8" dy="-1.8">3</tspan></text><text transform="translate(512.00,232.80) rotate(-30)" font-size="5.4" text-anchor="middle" fill="#666" style="stroke-width:0.1px;stroke:#666">10<tspan font-size="3.8" dy="-1.8">4</tspan></text>
</svg>
</body></html>
